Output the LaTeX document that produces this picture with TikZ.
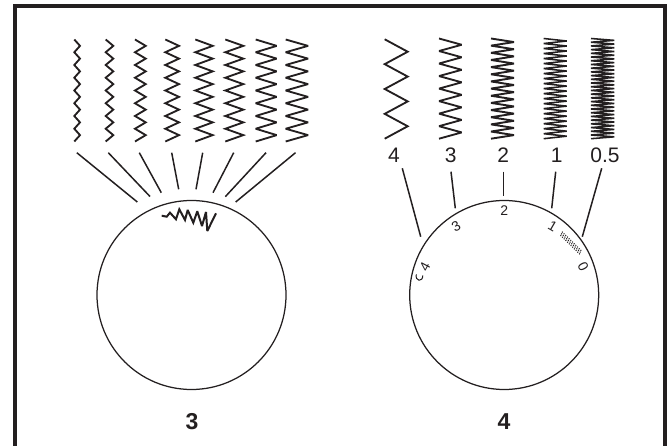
\documentclass[tikz,border=0pt]{standalone}
\usepackage{fontspec}
\setmainfont{Liberation Sans}
\usetikzlibrary{calc}
\definecolor{ink}{HTML}{231F20}
\tikzset{
  frame/.style={draw=ink,line width=3.8pt,line join=miter},
  lead/.style={draw=ink,line width=1.5pt},
  dial/.style={draw=ink,line width=1.25pt,circle,minimum size=189pt,inner sep=0pt},
  stitch/.style={draw=ink,line width=1.85pt,line join=miter,miter limit=3},
  dense/.style={stitch,line width=1.9pt,line join=bevel},
  denser/.style={stitch,line width=1.55pt,line join=bevel},
  biglab/.style={text=ink,inner sep=0pt,font=\fontsize{21}{21}\selectfont},
  caplab/.style={text=ink,inner sep=0pt,font=\fontsize{23}{23}\selectfont\bfseries},
  dialnum/.style={text=ink,inner sep=0pt,font=\fontsize{14}{14}\selectfont},
  hatch/.style={draw=ink,line width=1pt,dash pattern=on 1.1pt off 0.8pt}
}
% left x, right x, top y, bottom y, cycles, style
\newcommand{\zig}[6]{%
  \draw[#6] (#1,#3) \foreach \k in {1,...,#5} { -- (#2,{#3+(\k-0.5)*(#4-#3)/#5}) -- (#1,{#3+\k*(#4-#3)/#5}) };}
\begin{document}
\begin{tikzpicture}[x=1pt,y=-1pt]
\useasboundingbox (0,0) rectangle (667,446);
\draw[frame] (15,446) -- (15,6) -- (665,6) -- (665,446);
% left stitches
\zig{74.3}{80}{39.5}{141.5}{8}{stitch}
\zig{105.7}{113.3}{39.5}{141.5}{8}{stitch}
\zig{135}{145.7}{39.5}{141.5}{8}{stitch}
\zig{165.3}{179}{39.5}{141.5}{8}{stitch}
\zig{195.3}{212.7}{39.5}{141.5}{8}{stitch}
\zig{225.3}{243.3}{39.5}{141.5}{8}{stitch}
\zig{255.7}{276.7}{39.5}{141.5}{8}{stitch}
\zig{285.7}{308}{39.5}{141.5}{8}{stitch}
% left leads
\coordinate (l1a) at (76.8,152.7); \coordinate (l1b) at (137.3,202);
\coordinate (l2a) at (108.3,152.7); \coordinate (l2b) at (150,196.5);
\coordinate (l3a) at (139.3,152.7); \coordinate (l3b) at (161.3,192.7);
\coordinate (l4a) at (171.7,152.7); \coordinate (l4b) at (178.7,189.3);
\coordinate (l5a) at (202.7,152.7); \coordinate (l5b) at (196,189.3);
\coordinate (l6a) at (233.7,152.7); \coordinate (l6b) at (213,192.7);
\coordinate (l7a) at (266,152.7); \coordinate (l7b) at (225.3,196.7);
\coordinate (l8a) at (295.5,152.7); \coordinate (l8b) at (235.7,202);
\foreach \i in {1,...,8} \draw[lead] (l\i a) -- (l\i b);
\node[dial] (d3) at (191.5,295) {};
\draw[stitch,line width=2pt] (161.7,215.7) -- (166.7,216.7) -- (170,212.7) -- (176,219.3) -- (179.3,209.3) -- (185,220) -- (187.7,210) -- (193.3,222.7) -- (197.3,211.3) -- (202,226) -- (206,212) -- (207.3,231) -- (216,213.3);
% right stitches
\zig{384.7}{407.7}{39.3}{138.7}{4}{stitch}
\zig{439}{461.7}{38.5}{138.7}{8}{stitch}
\zig{491}{514}{38.5}{138.7}{14}{dense}
\zig{543.7}{566.7}{38.5}{138.7}{20}{denser}
\zig{591}{614.3}{38.5}{138.7}{27}{denser}
% value labels
\node[biglab] (n4) at (394,155) {4};
\node[biglab] (n3) at (450.7,155) {3};
\node[biglab] (n2) at (503.3,155) {2};
\node[biglab] (n1) at (556.7,155) {1};
\node[biglab] (n05) at (605,155) {0.5};
% right leads
\coordinate (r1a) at (402.3,168.3); \coordinate (r1b) at (420.7,236.7);
\coordinate (r2a) at (451,171.7); \coordinate (r2b) at (455.3,208.3);
\coordinate (r3a) at (503.3,171.7); \coordinate (r3b) at (503.3,196);
\coordinate (r4a) at (555.7,171.7); \coordinate (r4b) at (551.7,208.3);
\coordinate (r5a) at (601.7,168.3); \coordinate (r5b) at (582.3,236.7);
\foreach \i in {1,...,5} \draw[lead] (r\i a) -- (r\i b);
\node[dial] (d4) at (504.2,295) {};
% dial numbers
\node[dialnum,rotate=30] (m3) at (456,226) {3};
\node[dialnum] (m2) at (504.3,210.7) {2};
\node[dialnum,rotate=-30] (m1) at (552.7,226) {1};
\node[dialnum,rotate=-62] (m0) at (583.3,266.7) {0};
\node[dialnum,rotate=62] (m4) at (425,266.7) {4};
\draw[ink,line width=1pt] (416.3,274.3) .. controls (414.8,281.5) and (422.8,282.5) .. (422.8,275.5);
% hatch patch on dial 4
\coordinate (ha) at (562.6,231.6); \coordinate (hb) at (581.3,250);
\coordinate (hc) at (560.4,236.4); \coordinate (hd) at (579.4,254.7);
\foreach \t in {0,0.09,...,1.01}
  \draw[hatch] ($(ha)!\t!(hb)$) -- ($(hc)!\t!(hd)$);
% captions
\node[caplab] (c3) at (192,421.5) {3};
\node[caplab] (c4) at (504,421.5) {4};
\end{tikzpicture}
\end{document}
